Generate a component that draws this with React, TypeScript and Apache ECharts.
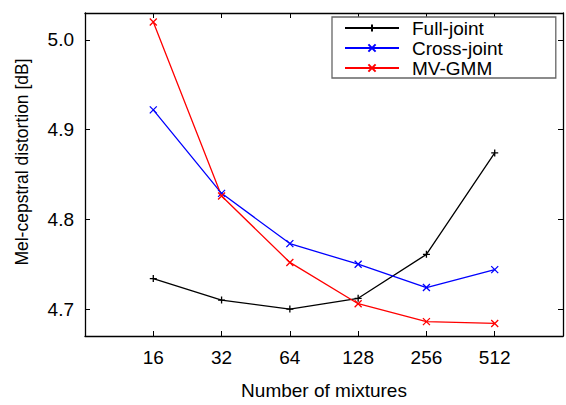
import React, { useEffect, useRef } from "react";
import * as echarts from "echarts";

const mixtures = [16, 32, 64, 128, 256, 512];
const fullJoint = [4.734, 4.710, 4.700, 4.712, 4.761, 4.874];
const crossJoint = [4.922, 4.829, 4.773, 4.750, 4.724, 4.744];
const mvGmm = [5.020, 4.826, 4.752, 4.706, 4.686, 4.684];

const FONT = "'Liberation Sans', Arial, Helvetica, sans-serif";
const PLUS = "path://M5,0L5,10M0,5L10,5";
const CROSS = "path://M0,0L10,10M10,0L0,10";

function pairs(vals: number[]) {
  return mixtures.map((m, i) => [m, vals[i]]);
}

export default function App() {
  const ref = useRef<HTMLDivElement>(null);
  useEffect(() => {
    if (!ref.current) return;
    const chart = echarts.init(ref.current, undefined, { renderer: "svg" });
    const xFmt = (v: number) => {
      const r = Math.round(v);
      return r === 8 || r === 1024 ? "" : String(r);
    };
    const mkSeries = (name: string, vals: number[], color: string, symbol: string, size: number) => ({
      name,
      type: "line",
      data: pairs(vals),
      symbol,
      symbolSize: size,
      color,
      lineStyle: { color, width: 1.3 },
      itemStyle: { color, borderColor: color, borderWidth: 1.3 },
      emphasis: { disabled: true },
    });
    const baseX = {
      type: "log",
      logBase: 2,
      min: 8,
      max: 1024,
      axisLine: { show: true, lineStyle: { color: "#000", width: 1.3 } },
      axisTick: { show: true, inside: true, length: 5, lineStyle: { color: "#000", width: 1 } },
      splitLine: { show: false },
      minorTick: { show: false },
    };
    const baseY = {
      type: "value",
      min: 4.67,
      max: 5.03,
      axisLine: { show: true, lineStyle: { color: "#000", width: 1.3 } },
      axisTick: { show: true, inside: true, length: 5, lineStyle: { color: "#000", width: 1 } },
      splitLine: { show: false },
    };
    chart.setOption({
      animation: false,
      backgroundColor: "#fff",
      textStyle: { fontFamily: FONT },
      grid: { left: 85, top: 13, width: 479, height: 333, containLabel: false },
      legend: {
        orient: "vertical",
        left: 332,
        top: 17,
        padding: [1, 53, 0, 12],
        itemWidth: 54,
        itemHeight: 9,
        itemGap: 0,
        borderColor: "#666",
        borderWidth: 1.3,
        backgroundColor: "#fff",
        textStyle: { fontSize: 19, color: "#000", fontFamily: FONT, lineHeight: 20, padding: [0, 0, 0, 8] },
        data: ["Full-joint", "Cross-joint", "MV-GMM"],
      },
      xAxis: [
        {
          ...baseX,
          position: "bottom",
          name: "Number of mixtures",
          nameLocation: "middle",
          nameGap: 45,
          nameTextStyle: { fontSize: 19, color: "#000", fontFamily: FONT },
          axisLabel: { show: true, formatter: xFmt, fontSize: 19, color: "#000", margin: 12, fontFamily: FONT },
        },
        {
          ...baseX,
          position: "top",
          axisLabel: { show: false },
        },
      ],
      yAxis: [
        {
          ...baseY,
          position: "left",
          name: "Mel-cepstral distortion [dB]",
          nameLocation: "middle",
          nameGap: 54,
          nameTextStyle: { fontSize: 17.5, color: "#000", fontFamily: FONT, padding: [0, 0, 0, 25] },
          axisLabel: {
            show: true,
            fontSize: 19,
            color: "#000",
            margin: 11,
            fontFamily: FONT,
            showMinLabel: false,
            showMaxLabel: false,
            formatter: (v: number) => v.toFixed(1),
          },
        },
        {
          ...baseY,
          position: "right",
          axisLabel: { show: false },
        },
      ],
      series: [
        mkSeries("Full-joint", fullJoint, "#000000", PLUS, 7),
        mkSeries("Cross-joint", crossJoint, "#0000ff", CROSS, 7),
        mkSeries("MV-GMM", mvGmm, "#ff0000", CROSS, 7),
      ],
    });
    return () => chart.dispose();
  }, []);
  return <div ref={ref} style={{ width: 566, height: 405, position: "absolute", left: 0, top: 0 }} />;
}
